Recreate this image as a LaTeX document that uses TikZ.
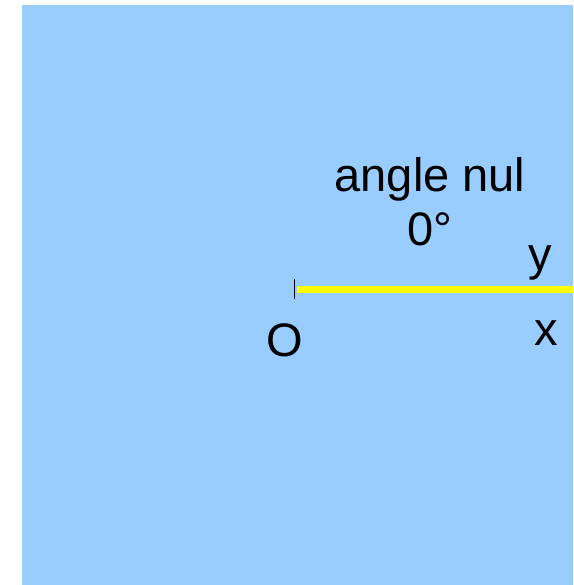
\documentclass[tikz,border=0pt]{standalone}
\usepackage{fontspec}
\setmainfont{Liberation Sans}
\definecolor{bgblue}{RGB}{153,204,255}
\definecolor{rayyellow}{RGB}{255,255,0}
\begin{document}
\begin{tikzpicture}[x=1pt,y=1pt,
  lbl/.style={anchor=base,inner sep=0pt,font=\fontsize{47}{56}\selectfont},
  ray/.style={draw=rayyellow,line width=7.5pt},
  tick/.style={draw=black,line width=1.3pt}]
\useasboundingbox (0,0) rectangle (573,-585);
\fill[bgblue] (22,-5) rectangle (573,-585);
\coordinate (orig) at (297,-289.5);
\coordinate (rayend) at (573,-289.5);
\coordinate (ticktop) at (294.3,-279);
\coordinate (tickbot) at (294.3,-298.5);
\draw[ray] (orig) -- (rayend);
\draw[tick] (ticktop) -- (tickbot);
\node[lbl] (name) at (430,-192) {angle nul};
\node[lbl] (deg) at (430,-245) {0°};
\node[lbl] (ylab) at (540.5,-270) {y};
\node[lbl] (xlab) at (546.5,-345) {x};
\node[lbl] (olab) at (284.5,-356) {O};
\end{tikzpicture}
\end{document}
